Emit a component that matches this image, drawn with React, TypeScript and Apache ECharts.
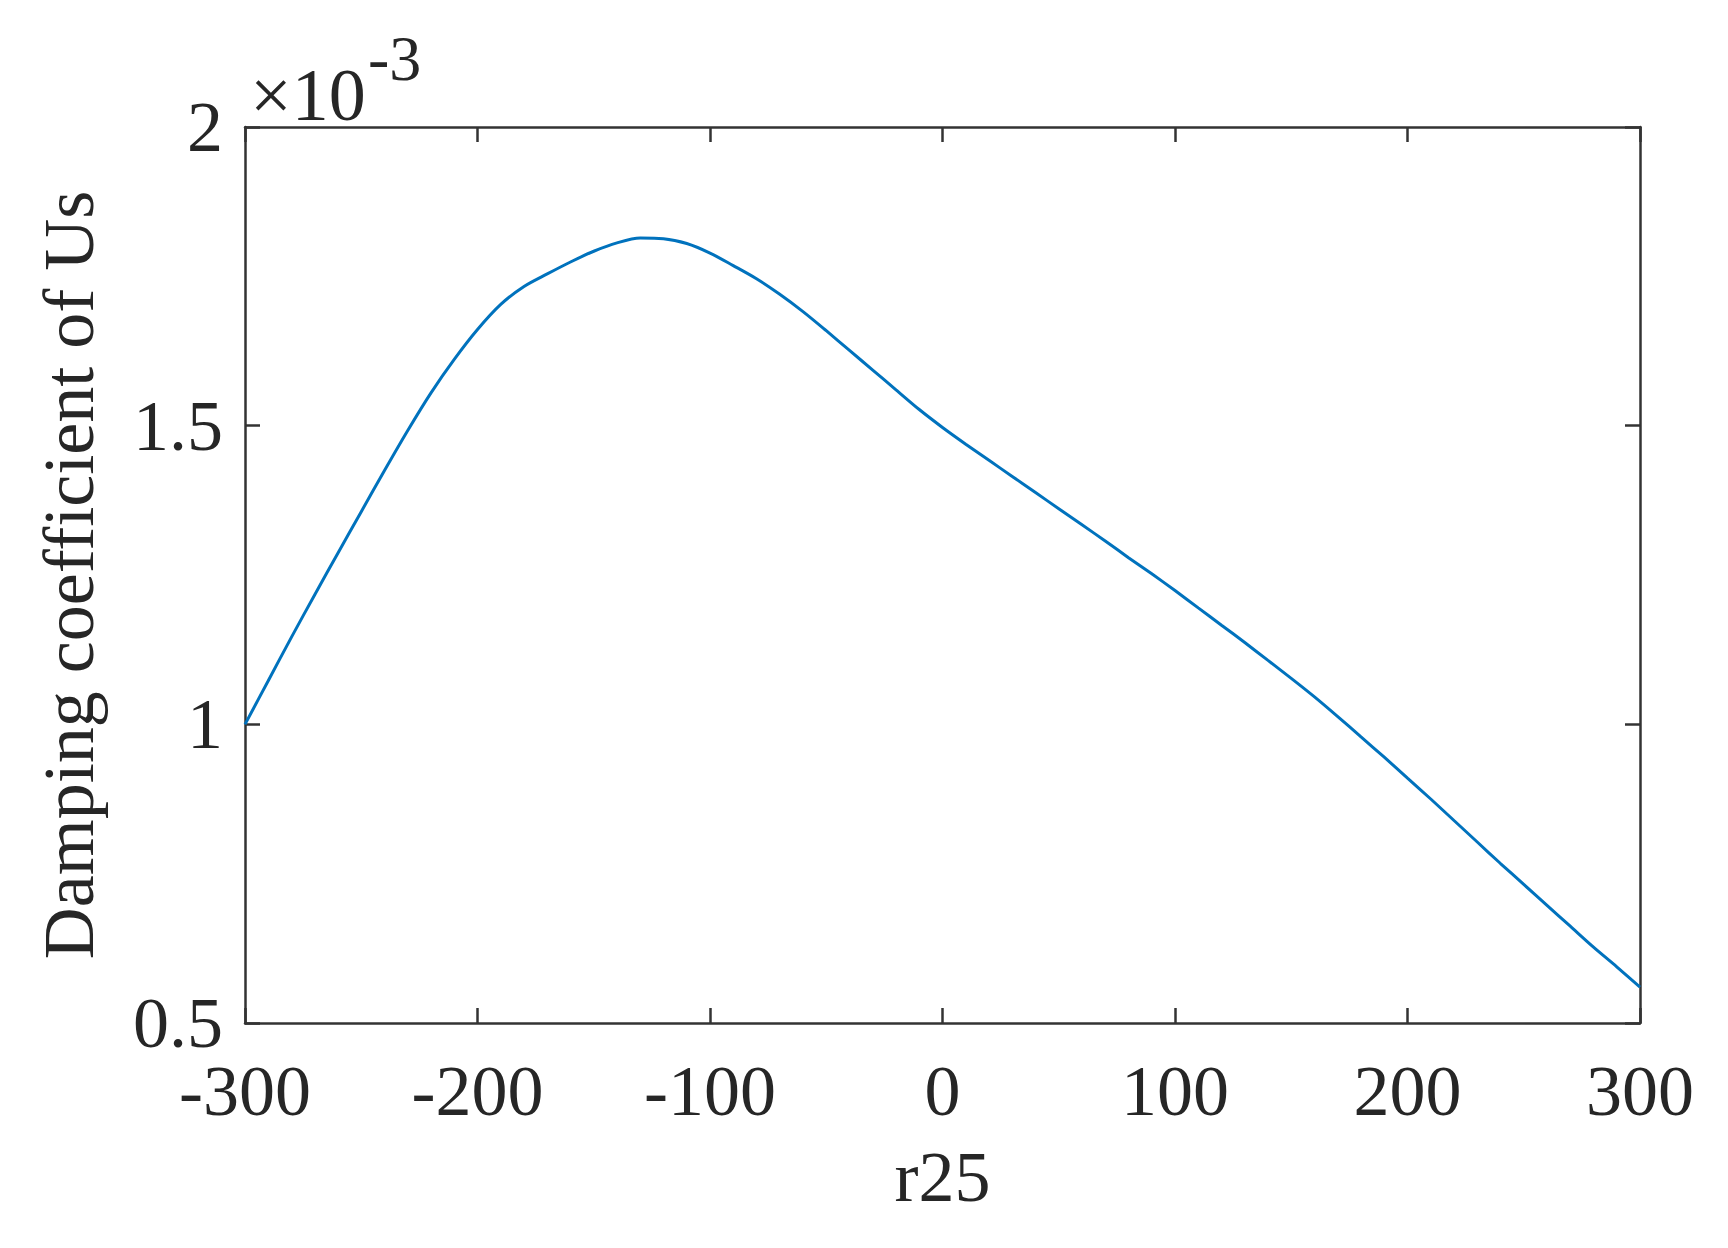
import React, { useEffect, useRef } from "react";
import * as echarts from "echarts";

// r25 values (x axis)
const xValues: number[] = [
  -300, -290, -280, -270, -260, -250, -240, -230, -220, -210,
  -200, -190, -180, -170, -160, -150, -140, -130, -120, -110,
  -100, -90, -80, -70, -60, -50, -40, -30, -20, -10,
  0, 10, 20, 30, 40, 50, 60, 70, 80, 90,
  100, 110, 120, 130, 140, 150, 160, 170, 180, 190,
  200, 210, 220, 230, 240, 250, 260, 270, 280, 290, 300,
];

// Damping coefficient of Us (×10^-3)
const dampingValues: number[] = [
  1.0, 1.073, 1.146, 1.217, 1.287, 1.356, 1.425, 1.492, 1.555, 1.611,
  1.661, 1.703, 1.733, 1.754, 1.774, 1.792, 1.806, 1.814, 1.813, 1.805,
  1.789, 1.768, 1.746, 1.72, 1.691, 1.659, 1.626, 1.593, 1.56, 1.527,
  1.497, 1.469, 1.442, 1.415, 1.388, 1.361, 1.334, 1.307, 1.279, 1.252,
  1.224, 1.195, 1.166, 1.137, 1.107, 1.077, 1.046, 1.013, 0.979, 0.945,
  0.91, 0.875, 0.839, 0.803, 0.767, 0.732, 0.697, 0.662, 0.627, 0.594, 0.56,
];

const xTicks = { min: -300, max: 300, interval: 100 };
const yTicks = { min: 0.5, max: 2, interval: 0.5 };

const xTitle = "r25";
const yTitle = "Damping coefficient of Us";
const exponentBase = "×10";
const exponentPower = "-3";

const FONT = '"Liberation Serif", "Times New Roman", serif';
const TEXT_COLOR = "#262626";
const AXIS_COLOR = "#333333";

export default function App() {
  const ref = useRef<HTMLDivElement>(null);

  useEffect(() => {
    if (!ref.current) return;
    const chart = echarts.init(ref.current, undefined, { renderer: "svg" });

    const axisLine = { show: true, onZero: false, lineStyle: { color: AXIS_COLOR, width: 2.5 } };
    const axisTick = { show: true, inside: true, length: 15, lineStyle: { color: AXIS_COLOR, width: 2.5 } };

    chart.setOption({
      animation: false,
      backgroundColor: "#ffffff",
      grid: { left: 245, right: 88, top: 127, bottom: 225, containLabel: false },
      xAxis: [
        {
          type: "value",
          position: "bottom",
          min: xTicks.min,
          max: xTicks.max,
          interval: xTicks.interval,
          name: xTitle,
          nameLocation: "middle",
          nameGap: 118,
          nameTextStyle: { fontFamily: FONT, fontSize: 72, color: TEXT_COLOR },
          axisLine,
          axisTick,
          splitLine: { show: false },
          axisLabel: { margin: 32, fontFamily: FONT, fontSize: 72, color: TEXT_COLOR },
        },
        {
          type: "value",
          position: "top",
          min: xTicks.min,
          max: xTicks.max,
          interval: xTicks.interval,
          axisLine,
          axisTick,
          splitLine: { show: false },
          axisLabel: { show: false },
        },
      ],
      yAxis: [
        {
          type: "value",
          position: "left",
          min: yTicks.min,
          max: yTicks.max,
          interval: yTicks.interval,
          name: yTitle,
          nameLocation: "middle",
          nameGap: 140,
          nameTextStyle: { fontFamily: FONT, fontSize: 72, color: TEXT_COLOR },
          axisLine,
          axisTick,
          splitLine: { show: false },
          axisLabel: { margin: 22, fontFamily: FONT, fontSize: 72, color: TEXT_COLOR },
        },
        {
          type: "value",
          position: "right",
          min: yTicks.min,
          max: yTicks.max,
          interval: yTicks.interval,
          axisLine,
          axisTick,
          splitLine: { show: false },
          axisLabel: { show: false },
        },
      ],
      graphic: [
        {
          type: "text",
          left: 250,
          top: 58,
          style: { text: exponentBase, fontFamily: FONT, fontSize: 74, fill: TEXT_COLOR },
        },
        {
          type: "text",
          left: 368,
          top: 26,
          style: { text: exponentPower, fontFamily: FONT, fontSize: 64, fill: TEXT_COLOR },
        },
      ],
      series: [
        {
          type: "line",
          xAxisIndex: 0,
          yAxisIndex: 0,
          data: xValues.map((x, i) => [x, dampingValues[i]]),
          showSymbol: false,
          smooth: 0.3,
          lineStyle: { color: "#0072BD", width: 3 },
          itemStyle: { color: "#0072BD" },
        },
      ],
    });

    return () => chart.dispose();
  }, []);

  return (
    <div
      ref={ref}
      style={{ position: "fixed", left: 0, top: 0, width: 1728, height: 1248, background: "#fff" }}
    />
  );
}
